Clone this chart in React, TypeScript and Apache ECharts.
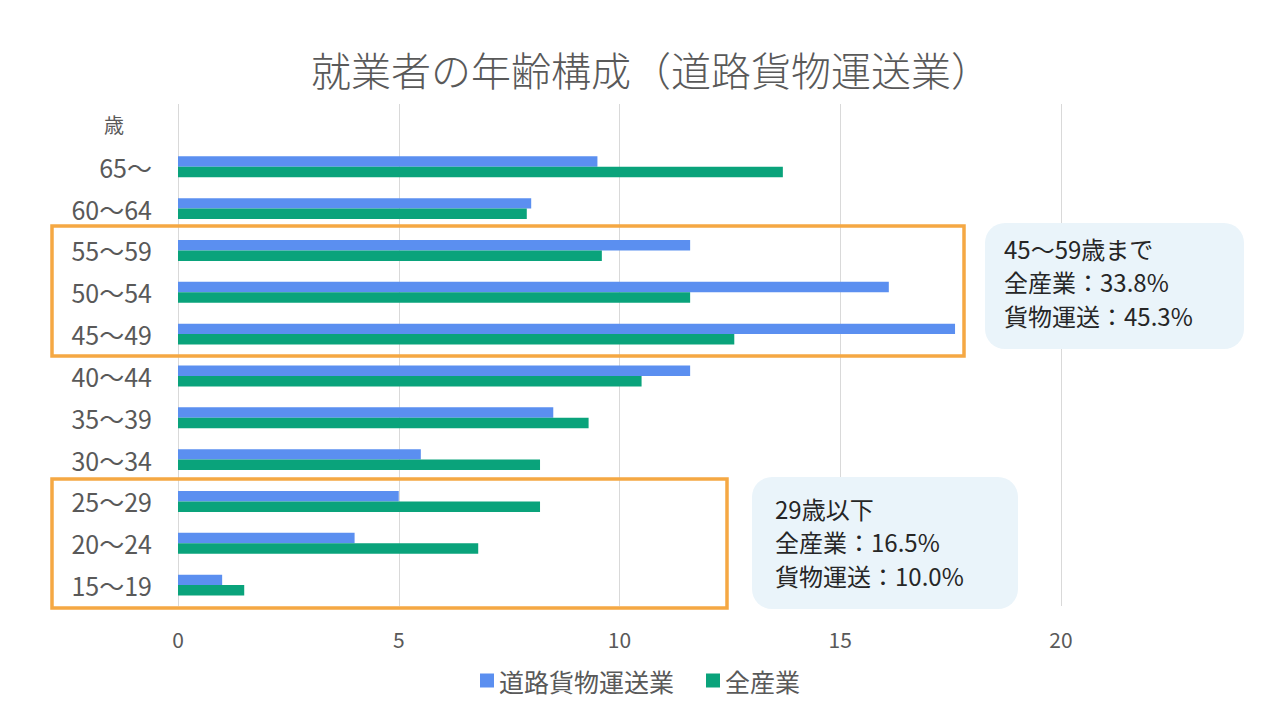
import React, { useEffect, useRef } from "react";
import * as echarts from "echarts";

const categories = ["歳", "65～", "60～64", "55～59", "50～54", "45～49", "40～44", "35～39", "30～34", "25～29", "20～24", "15～19"];
const roadFreight = [null, 9.5, 8.0, 11.6, 16.1, 17.6, 11.6, 8.5, 5.5, 5.0, 4.0, 1.0];
const allIndustry = [null, 13.7, 7.9, 9.6, 11.6, 12.6, 10.5, 9.3, 8.2, 8.2, 6.8, 1.5];
const xTicks = [0, 5, 10, 15, 20];
const seriesNames = ["道路貨物運送業", "全産業"];
const calloutTop = ["45～59歳まで", "全産業：33.8%", "貨物運送：45.3%"];
const calloutBottom = ["29歳以下", "全産業：16.5%", "貨物運送：10.0%"];

const FONT = "'Noto Sans CJK JP', 'Noto Sans', sans-serif";

export default function App() {
  const ref = useRef<HTMLDivElement>(null);
  useEffect(() => {
    const chart = echarts.init(ref.current!, null, { renderer: "svg" });
    const calloutText = (lines: string[], x: number, y: number) =>
      lines.map((t, i) => ({
        type: "text",
        left: x,
        top: y + i * 33.5,
        style: { text: t, fill: "#262626", font: `24px ${FONT}` },
        z: 10,
      }));
    chart.setOption({
      animation: false,
      textStyle: { fontFamily: FONT },
      title: {
        text: "就業者の年齢構成（道路貨物運送業）",
        left: 306,
        top: 44,
        textStyle: { fontSize: 40, fontWeight: 300, color: "#595959", fontFamily: FONT },
      },
      legend: {
        data: seriesNames,
        bottom: 22,
        left: "center",
        icon: "rect",
        itemWidth: 14,
        itemHeight: 14,
        itemGap: 32,
        textStyle: { fontSize: 25, color: "#595959", fontFamily: FONT },
      },
      grid: { left: 178, right: 219, top: 104, bottom: 114, containLabel: false },
      xAxis: {
        type: "value",
        min: xTicks[0],
        max: xTicks[xTicks.length - 1],
        interval: 5,
        axisLine: { show: false },
        axisTick: { show: false },
        axisLabel: { fontSize: 21, color: "#595959", margin: 22 },
        splitLine: { lineStyle: { color: "#d9d9d9", width: 1 } },
      },
      yAxis: {
        type: "category",
        inverse: true,
        data: categories,
        axisLine: { show: false },
        axisTick: { show: false },
        axisLabel: {
          fontSize: 25,
          color: "#595959",
          margin: 26,
          formatter: (v: string) => (v === "歳" ? `{u|${v}}` : `{n|${v}}`),
          rich: {
            n: { fontSize: 25, color: "#595959", fontFamily: FONT },
            u: { fontSize: 20, color: "#595959", fontFamily: FONT, padding: [0, 28, 0, 0] },
          },
        },
        splitLine: { show: false },
      },
      series: [
        {
          name: seriesNames[0],
          type: "bar",
          data: roadFreight,
          barGap: "0%",
          barCategoryGap: "50%",
          itemStyle: { color: "#5b8ff0" },
        },
        {
          name: seriesNames[1],
          type: "bar",
          data: allIndustry,
          barGap: "0%",
          barCategoryGap: "50%",
          itemStyle: { color: "#0aa37b" },
        },
      ],
      graphic: [
        {
          type: "rect",
          shape: { x: 52, y: 226, width: 912, height: 130 },
          style: { fill: "none", stroke: "#f5a843", lineWidth: 3.5 },
          z: 10,
        },
        {
          type: "rect",
          shape: { x: 52, y: 479, width: 675, height: 129 },
          style: { fill: "none", stroke: "#f5a843", lineWidth: 3.5 },
          z: 10,
        },
        {
          type: "rect",
          shape: { x: 985, y: 223, width: 259, height: 126, r: 20 },
          style: { fill: "#eaf4fa" },
          z: 9,
        },
        {
          type: "rect",
          shape: { x: 752, y: 477, width: 266, height: 132, r: 20 },
          style: { fill: "#eaf4fa" },
          z: 9,
        },
        ...calloutText(calloutTop, 1004, 236),
        ...calloutText(calloutBottom, 775, 496),
      ],
    });
    return () => chart.dispose();
  }, []);
  return <div ref={ref} style={{ position: "absolute", left: 0, top: 0, width: 1280, height: 720 }} />;
}
